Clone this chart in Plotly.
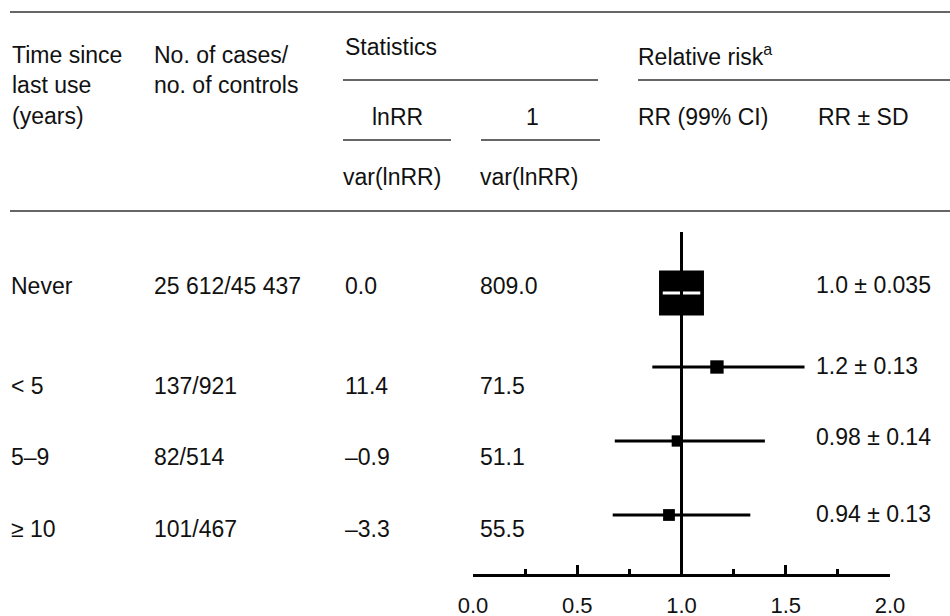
import plotly.graph_objects as go
import math

# ---------------- data ----------------
time_labels = ["Never", "< 5", "5–9", "≥ 10"]
cases_controls = ["25 612/45 437", "137/921", "82/514", "101/467"]
lnrr_over_var = [0.0, 11.4, -0.9, -3.3]
inv_var = [809.0, 71.5, 51.1, 55.5]
rr = [1.0, 1.17, 0.98, 0.94]
ci_low = [0.91, 0.86, 0.68, 0.67]
ci_high = [1.09, 1.59, 1.40, 1.33]
rr_sd_labels = ["1.0 ± 0.035", "1.2 ± 0.13", "0.98 ± 0.14", "0.94 ± 0.13"]
NULL_RR = 1.0
x_tickvals = [0.0, 0.5, 1.0, 1.5, 2.0]
x_ticktext = ["0.0", "0.5", "1.0", "1.5", "2.0"]

# ---------------- layout helpers ----------------
W, H = 950, 616
FONT = "Liberation Sans, Arial, sans-serif"
FS = 23
INK = "#111111"


def px(x):
    return x / W


def py(y):
    return 1 - y / H


def fmt(v):
    return f"{v:.1f}".replace("-", "–")


fig = go.Figure()

# CI lines for all rows except the reference row (black)
xs, ys = [], []
for lab, lo, hi in zip(time_labels[1:], ci_low[1:], ci_high[1:]):
    xs += [lo, hi, None]
    ys += [lab, lab, None]
fig.add_trace(go.Scatter(x=xs, y=ys, mode="lines",
                         line=dict(color="black", width=3),
                         hoverinfo="skip", showlegend=False))

# square markers, area proportional to weight
sizes = [1.58 * math.sqrt(w) for w in inv_var]
fig.add_trace(go.Scatter(x=rr, y=time_labels, mode="markers",
                         marker=dict(symbol="square", size=sizes, color="black",
                                     opacity=1, line=dict(width=0)),
                         showlegend=False))

# reference row CI drawn white on top of its box
fig.add_trace(go.Scatter(x=[ci_low[0], ci_high[0]], y=[time_labels[0]] * 2,
                         mode="lines", line=dict(color="white", width=3),
                         hoverinfo="skip", showlegend=False))

axis_y = 575
fig.update_layout(
    width=W, height=H,
    margin=dict(l=0, r=0, t=0, b=0, pad=0, autoexpand=False),
    paper_bgcolor="white", plot_bgcolor="white",
    showlegend=False,
    font=dict(family=FONT, size=FS, color=INK),
    xaxis=dict(
        domain=[px(473), px(890)], range=[0, 2],
        anchor="free", position=1 - axis_y / H, automargin=False,
        showline=True, linecolor="black", linewidth=3,
        ticks="inside", ticklen=9, tickwidth=3, tickcolor="black",
        tickvals=x_tickvals, ticktext=x_ticktext,
        ticklabelstandoff=10,
        tickfont=dict(family=FONT, size=22, color=INK),
        minor=dict(dtick=0.25, tick0=0, ticks="inside", ticklen=5,
                   tickwidth=3, tickcolor="black", showgrid=False),
        showgrid=False, zeroline=False, fixedrange=True,
    ),
    yaxis=dict(
        domain=[0, 1], range=[(H - 293) / 74, -293 / 74], automargin=False,
        type="category", categoryorder="array", categoryarray=time_labels,
        visible=False, showgrid=False, zeroline=False, fixedrange=True,
    ),
)

# vertical line of no effect
fig.add_shape(type="line", xref="x", yref="paper",
              x0=NULL_RR, x1=NULL_RR, y0=py(axis_y), y1=py(232),
              line=dict(color="black", width=3), layer="above")

# table rules
rule = dict(color="#333333", width=1.3)
for (x0, x1, y) in [(10, 950, 12), (10, 950, 211), (343, 598, 80),
                    (638, 950, 80), (343, 451, 140), (481, 600, 140)]:
    fig.add_shape(type="line", xref="paper", yref="paper",
                  x0=px(x0), x1=px(x1), y0=py(y), y1=py(y), line=rule)


def text(x, y, s, anchor="left"):
    fig.add_annotation(x=px(x), y=py(y), xref="paper", yref="paper",
                       text=s, showarrow=False, xanchor=anchor, yanchor="middle",
                       font=dict(family=FONT, size=FS, color=INK))


# header
text(10, 55, "Time since")
text(10, 85, "last use")
text(10, 116, "(years)")
text(152, 55, "No. of cases/")
text(152, 85, "no. of controls")
text(343, 47, "Statistics")
text(397, 117, "lnRR", anchor="center")
text(341, 177, "var(lnRR)")
text(532, 117, "1", anchor="center")
text(478, 177, "var(lnRR)")
text(636, 55, "Relative risk<sup>a</sup>")
text(636, 117, "RR (99% CI)")
text(816, 117, "RR ± SD")

# body rows
row_text_y = [286, 386, 457, 529]
rr_label_y = [285, 366, 437, 514]
for i in range(len(time_labels)):
    yy = row_text_y[i]
    text(9, yy, time_labels[i])
    text(152, yy, cases_controls[i])
    text(343, yy, fmt(lnrr_over_var[i]))
    text(478, yy, fmt(inv_var[i]))
    text(814, rr_label_y[i], rr_sd_labels[i])

fig.write_html(
    "out.html",
    config={"displayModeBar": False},
    post_script="document.body.style.margin='0';document.body.style.overflow='hidden';",
)
